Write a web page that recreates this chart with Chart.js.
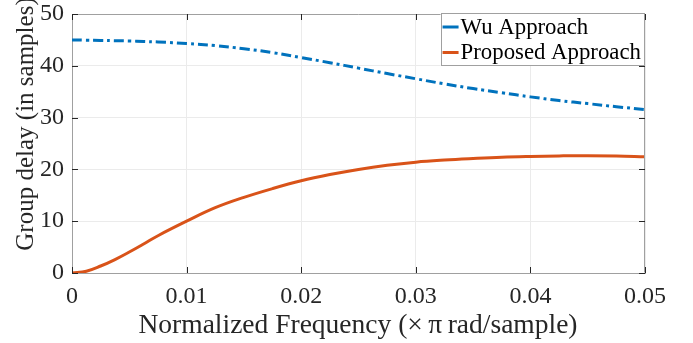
<!DOCTYPE html>
<html>
<head>
<meta charset="utf-8">
<script src="https://cdn.jsdelivr.net/npm/chart.js@4.4.1/dist/chart.umd.min.js"></script>
<style>
  html, body { margin: 0; padding: 0; background: #fff; }
  #wrap { width: 693px; height: 343px; position: relative; }
</style>
</head>
<body>
<div id="wrap"><canvas id="c" width="693" height="343"></canvas></div>
<script>
// ---- data ----
const freq = [0, 0.00125, 0.0025, 0.00375, 0.005, 0.00625, 0.0075, 0.01, 0.0125, 0.015, 0.0175,
              0.02, 0.0225, 0.025, 0.0275, 0.03, 0.0325, 0.035, 0.0375, 0.04, 0.0425,
              0.045, 0.0475, 0.05];
const wuDelay = [45.0, 44.95, 44.9, 44.85, 44.8, 44.7, 44.6, 44.3, 43.9, 43.3, 42.55,
                 41.6, 40.6, 39.55, 38.5, 37.5, 36.5, 35.6, 34.8, 34.0, 33.3,
                 32.7, 32.1, 31.55];
const proposedDelay = [0.0, 0.35, 1.35, 2.6, 4.05, 5.6, 7.2, 10.0, 12.6, 14.6, 16.3,
                       17.8, 19.0, 20.0, 20.8, 21.4, 21.8, 22.1, 22.35, 22.5, 22.6,
                       22.65, 22.6, 22.45];
const seriesLabels = ['Wu Approach', 'Proposed Approach'];
const xTicks = [0, 0.01, 0.02, 0.03, 0.04, 0.05];
const yTicks = [0, 10, 20, 30, 40, 50];
const xTitle = 'Normalized Frequency (\u00D7\u2009\u03C0\u2009rad/sample)';
const yTitle = 'Group delay (in samples)';

const FONT = "'Liberation Serif', 'Times New Roman', serif";
const BLUE = '#0072BD';
const ORANGE = '#D95319';

const toPts = (ys) => freq.map((x, i) => ({ x: x, y: ys[i] }));

// inside tick marks + full box + legend + axis titles
const boxPlugin = {
  id: 'boxPlugin',
  afterDatasetsDraw(chart) {
    const ctx = chart.ctx;
    const a = chart.chartArea;
    const xs = chart.scales.x, ys = chart.scales.y;
    ctx.save();
    // box
    ctx.strokeStyle = '#a0a0a0';
    ctx.lineWidth = 1;
    ctx.beginPath();
    ctx.moveTo(a.left + 0.5, a.top + 0.5);
    ctx.lineTo(a.right - 0.5, a.top + 0.5);
    ctx.lineTo(a.right - 0.5, a.bottom - 0.5);
    ctx.stroke();
    // ticks
    ctx.strokeStyle = '#262626';
    ctx.beginPath();
    const L = 6;
    xTicks.forEach(v => {
      const px = Math.round(xs.getPixelForValue(v)) + 0.5;
      ctx.moveTo(px, a.bottom); ctx.lineTo(px, a.bottom - L);
      ctx.moveTo(px, a.top); ctx.lineTo(px, a.top + L);
    });
    yTicks.forEach(v => {
      const py = Math.round(ys.getPixelForValue(v)) + 0.5;
      ctx.moveTo(a.left, py); ctx.lineTo(a.left + L, py);
      ctx.moveTo(a.right, py); ctx.lineTo(a.right - L, py);
    });
    ctx.stroke();

    // axis titles
    ctx.fillStyle = '#262626';
    ctx.textAlign = 'center';
    ctx.textBaseline = 'alphabetic';
    ctx.font = '27.5px ' + FONT;
    ctx.fillText(xTitle, 358, 333);
    ctx.save();
    ctx.translate(33, 124);
    ctx.rotate(-Math.PI / 2);
    ctx.font = '25px ' + FONT;
    ctx.fillText(yTitle, 0, 0);
    ctx.restore();

    // legend
    ctx.font = '22.8px ' + FONT;
    const tw = Math.max(...seriesLabels.map(s => ctx.measureText(s).width));
    const right = a.right;
    const top = a.top - 1;
    const lineX0 = 2, lineLen = 16, textGap = 2, padR = 4;
    const w = lineX0 + lineLen + textGap + tw + padR;
    const left = right - w;
    const h = 53;
    ctx.fillStyle = '#ffffff';
    ctx.fillRect(left, top, w, h);
    ctx.strokeStyle = '#a0a0a0';
    ctx.lineWidth = 1;
    ctx.strokeRect(Math.round(left) + 0.5, top + 0.5, Math.round(w) - 1, h - 1);
    const colors = [BLUE, ORANGE];
    const rowY = [top + 14, top + 39.5];
    ctx.textBaseline = 'middle';
    ctx.textAlign = 'left';
    seriesLabels.forEach((s, i) => {
      ctx.strokeStyle = colors[i];
      ctx.lineWidth = 3;
      ctx.beginPath();
      ctx.moveTo(left + lineX0, rowY[i]);
      ctx.lineTo(left + lineX0 + lineLen, rowY[i]);
      ctx.stroke();
      ctx.fillStyle = '#000';
      ctx.fillText(s, left + lineX0 + lineLen + textGap, rowY[i] + 1);
    });
    ctx.restore();
  }
};

const fmt = (v) => String(Number(v.toFixed(3)));

new Chart(document.getElementById('c'), {
  type: 'line',
  data: {
    datasets: [
      { label: seriesLabels[0], data: toPts(wuDelay), borderColor: BLUE, borderWidth: 3,
        borderDash: [10, 4, 3, 4], pointRadius: 0, tension: 0.4, fill: false },
      { label: seriesLabels[1], data: toPts(proposedDelay), borderColor: ORANGE, borderWidth: 3,
        pointRadius: 0, tension: 0.4, fill: false }
    ]
  },
  options: {
    responsive: false,
    animation: false,
    devicePixelRatio: 1,
    layout: { padding: { top: 14, right: 48, left: 0, bottom: 0 } },
    plugins: { legend: { display: false }, tooltip: { enabled: false } },
    scales: {
      x: {
        type: 'linear', min: 0, max: 0.05,
        afterBuildTicks: (s) => { s.ticks = xTicks.map(v => ({ value: v })); },
        afterFit: (s) => { s.height = 70; s.paddingLeft = 0; s.paddingRight = 0; },
        grid: { color: '#ebebeb', drawTicks: false, lineWidth: 1 },
        border: { color: '#a0a0a0', width: 1 },
        ticks: { color: '#262626', font: { family: FONT, size: 24 }, padding: 9,
                 maxRotation: 0, callback: (v) => fmt(v) },
        title: { display: false }
      },
      y: {
        type: 'linear', min: 0, max: 50,
        afterBuildTicks: (s) => { s.ticks = yTicks.map(v => ({ value: v })); },
        afterFit: (s) => { s.width = 72; s.paddingTop = 0; s.paddingBottom = 0; },
        grid: { color: '#ebebeb', drawTicks: false, lineWidth: 1 },
        border: { color: '#a0a0a0', width: 1 },
        ticks: { color: '#262626', font: { family: FONT, size: 24 }, padding: 8,
                 callback: (v) => fmt(v) },
        title: { display: false }
      }
    }
  },
  plugins: [boxPlugin]
});
</script>
</body>
</html>
